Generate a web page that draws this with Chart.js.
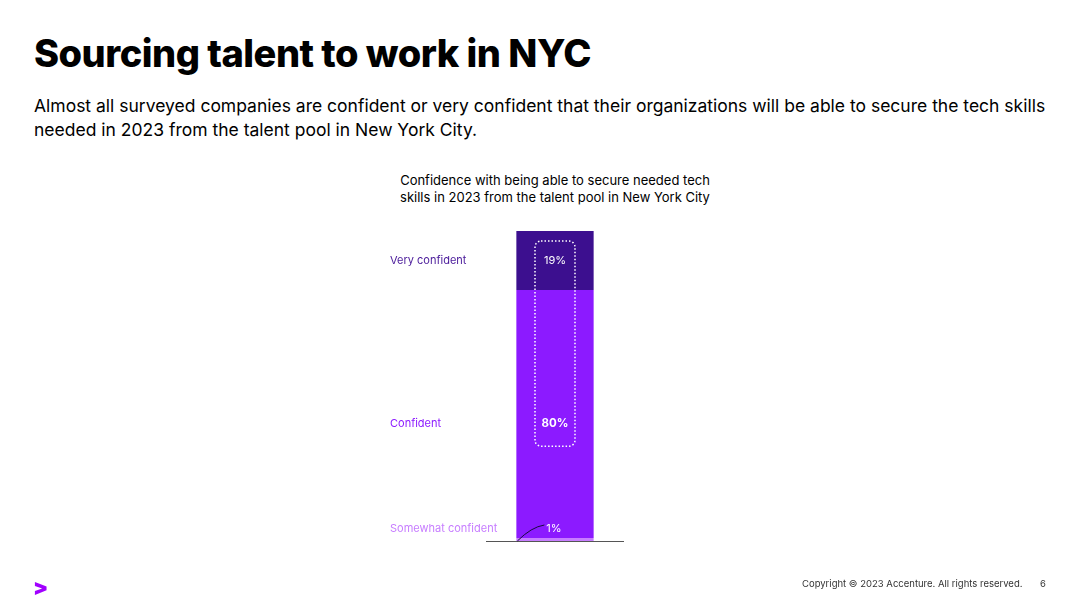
<!DOCTYPE html>
<html><head><meta charset="utf-8">
<script src="https://cdn.jsdelivr.net/npm/chart.js@4"></script>
<style>
body{margin:0;width:1080px;height:608px;background:#fff;font-family:Inter,"Noto Sans",sans-serif;position:relative;overflow:hidden}
#c{position:absolute;left:0;top:0}
.t{position:absolute;left:34px;top:30px;font-size:38px;font-weight:800;color:#000;letter-spacing:-0.5px}
.s{position:absolute;left:34px;top:94px;width:1030px;font-size:17.5px;line-height:24px;color:#000}
.ct{position:absolute;left:400px;top:172px;width:310px;text-align:center;font-size:13px;line-height:16.5px;color:#000}
.f{position:absolute;left:802px;top:578px;font-size:9.5px;color:#333}
.p{position:absolute;left:1040px;top:578px;font-size:9.5px;color:#333}
.logo{position:absolute;left:33px;top:574px;font-size:22px;font-weight:900;color:#a100ff}
</style></head><body>
<div class="t">Sourcing talent to work in NYC</div>
<div class="s">Almost all surveyed companies are confident or very confident that their organizations will be able to secure the tech skills needed in 2023 from the talent pool in New York City.</div>
<div class="ct">Confidence with being able to secure needed tech skills in 2023 from the talent pool in New York City</div>
<canvas id="c" width="1080" height="608"></canvas>
<div class="logo">&gt;</div>
<div class="f">Copyright © 2023 Accenture. All rights reserved.</div>
<div class="p">6</div>
<script>
const categories=["NYC"];
const seriesNames=["Somewhat confident","Confident","Very confident"];
const seriesValues=[[1],[80],[19]];
const colors=["#c77dff","#8c1aff","#3c0f8f"];
const labelColors=["#c77dff","#8c1aff","#4a1a9a"];
const deco={id:'deco',afterDatasetsDraw(ch){
 const c=ch.ctx,y=ch.scales.y,x=ch.scales.x,ca=ch.chartArea;
 const bar=ch.getDatasetMeta(0).data[0];
 const bx=bar.x,hw=bar.width/2;
 c.save();
 c.strokeStyle='#555';c.lineWidth=1.2;c.beginPath();c.moveTo(ca.left,ca.bottom+0.5);c.lineTo(ca.right,ca.bottom+0.5);c.stroke();
 let cum=0;c.font='11px Inter, sans-serif';c.textBaseline='middle';
 seriesValues.forEach((v,i)=>{const mid=cum+v[0]/2;cum+=v[0];
   let ly=i===0?ch.scales.y.getPixelForValue(0)-12:y.getPixelForValue(mid);
   if(i===2)ly=y.getPixelForValue(100)+30;
   if(i===1)ly=y.getPixelForValue(38);
   c.fillStyle=labelColors[i];c.textAlign='left';c.fillText(seriesNames[i],390,ly);
   c.fillStyle='#fff';c.textAlign='center';
   c.font=(i===1?'bold 11.5px':'11px')+' Inter, sans-serif';
   c.fillText(v[0]+'%',bx+(i===0?-1:0),ly);c.font='11px Inter, sans-serif';
 });
 // leader for 1%
 c.strokeStyle='#1a0a40';c.lineWidth=1;c.beginPath();c.moveTo(bx-hw+1,ca.bottom);c.quadraticCurveTo(bx-hw+15,ca.bottom-14,bx-hw+28,ca.bottom-16);c.stroke();
 // dotted box
 const t=y.getPixelForValue(100)+10,b=y.getPixelForValue(38)+23,l=bx-20,r=bx+20,rad=6;
 c.strokeStyle='#fff';c.lineWidth=1.5;c.setLineDash([1.5,2]);
 c.beginPath();c.moveTo(l+rad,t);c.lineTo(r-rad,t);c.arcTo(r,t,r,t+rad,rad);c.lineTo(r,b-rad);c.arcTo(r,b,r-rad,b,rad);c.lineTo(l+rad,b);c.arcTo(l,b,l,b-rad,rad);c.lineTo(l,t+rad);c.arcTo(l,t,l+rad,t,rad);c.stroke();
 c.restore();}};
new Chart(document.getElementById('c'),{type:'bar',
 data:{labels:categories,datasets:seriesValues.map((v,i)=>({label:seriesNames[i],data:v,backgroundColor:colors[i],barPercentage:0.56,categoryPercentage:1,borderWidth:0}))},
 options:{responsive:false,animation:false,layout:{padding:{left:486,right:456,top:231,bottom:67}},
  plugins:{legend:{display:false},tooltip:{enabled:false}},
  scales:{x:{stacked:true,display:false},y:{stacked:true,display:false,min:0,max:100}}},
 plugins:[deco]});
</script></body></html>
